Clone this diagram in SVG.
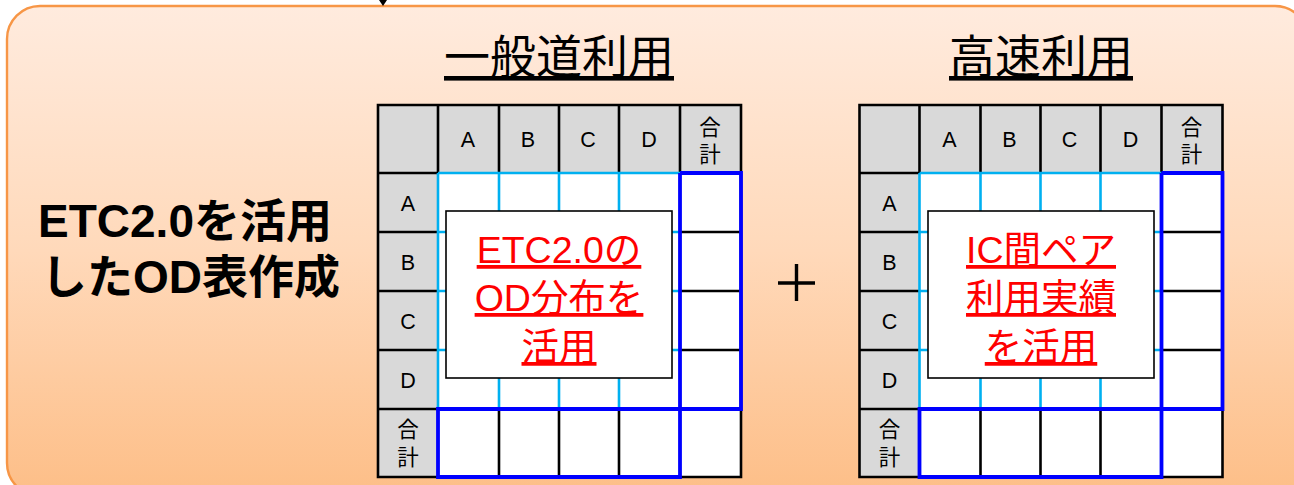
<svg xmlns="http://www.w3.org/2000/svg" width="1294" height="485" viewBox="0 0 1294 485">
<defs>
<linearGradient id="bg" x1="0" y1="0" x2="0" y2="1"><stop offset="0" stop-color="#FFEBDE"/><stop offset="0.5" stop-color="#FFD9BA"/><stop offset="1" stop-color="#FDBE87"/></linearGradient>
<g id="grid">
<rect x="0" y="0" width="363" height="372" fill="#fff"/>
<path d="M0 0H363V68H60V372H0Z" fill="#D9D9D9"/>
<g class="k"><path d="M60 0V68M121 0V68M181 0V68M241 0V68M302 0V68M0 68H60M0 127H60M0 186H60M0 245H60M0 304H60M302 127H363M302 186H363M302 245H363M121 304V372M181 304V372M241 304V372M0 0H363V372H0Z"/></g>
<path class="c" d="M60 68H302M60 127H302M60 186H302M60 245H302M60 68V304M121 68V304M181 68V304M241 68V304"/>
<path class="b" d="M302 68H363V304H60V372H302V68"/>
<g class="t">
<text x="90" y="41.500">A</text><text x="150" y="41.500">B</text><text x="210" y="41.500">C</text><text x="271" y="41.500">D</text>
<text x="332" y="29.500">合</text><text x="332" y="57">計</text>
<text x="30" y="105.500">A</text><text x="30" y="164.500">B</text><text x="30" y="223.500">C</text><text x="30" y="282.500">D</text>
<text x="30" y="332">合</text><text x="30" y="360">計</text>
</g>
</g>
</defs>
<style>
.k{fill:none;stroke:#000;stroke-width:2.6}
.c{fill:none;stroke:#00B0F0;stroke-width:2.6}
.b{fill:none;stroke:#0000FF;stroke-width:3.8}
.t text{font:21.5px "Liberation Sans","Noto Sans CJK JP",sans-serif;text-anchor:middle;fill:#000}
.h{font:46px "Noto Sans CJK JP",sans-serif;text-anchor:middle;fill:#000;text-decoration:underline}
.r{font:37.5px "Liberation Sans","Noto Sans CJK JP",sans-serif;text-anchor:middle;fill:#FF0000;text-decoration:underline}
.m{font-weight:bold;font-size:46px;font-family:"Liberation Sans","Noto Sans CJK JP",sans-serif;text-anchor:middle;fill:#000}
.box{fill:#fff;stroke:#000;stroke-width:1.6}
</style>
<g id="panel"><rect x="7" y="6" width="1301" height="490" rx="33" fill="url(#bg)" stroke="#F79646" stroke-width="2.400"/></g>
<g id="connectors"><path d="M379 0H387L383 6Z" fill="#000"/></g>
<g id="title"><text class="m" x="185" y="237">ETC2.0を活用</text><text class="m" x="190.500" y="292.500">したOD表作成</text></g>
<g id="general">
<text class="h" x="559" y="73">一般道利用</text>
<use href="#grid" x="378" y="105"/>
<rect class="box" x="446" y="211" width="226" height="167"/>
<text class="r" x="559" y="263">ETC2.0の</text><text class="r" x="559" y="311">OD分布を</text><text class="r" x="559" y="360">活用</text>
</g>
<g id="plus"><path d="M778 283H815M796.500 264V301" stroke="#000" stroke-width="3.400" fill="none"/></g>
<g id="highway">
<text class="h" x="1041" y="73">高速利用</text>
<use href="#grid" x="859.500" y="105"/>
<rect class="box" x="928" y="211" width="226" height="167"/>
<text class="r" x="1041" y="263">IC間ペア</text><text class="r" x="1041" y="311">利用実績</text><text class="r" x="1041" y="360">を活用</text>
</g>
</svg>
